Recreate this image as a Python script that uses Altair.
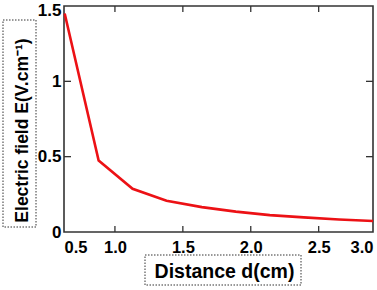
import altair as alt
import pandas as pd

# data
distance = [0.63, 0.88, 1.13, 1.38, 1.64, 1.89, 2.14, 2.39, 2.65, 2.90]
field = [1.45, 0.475, 0.287, 0.207, 0.165, 0.135, 0.112, 0.097, 0.083, 0.073]

x_tick_values = [0.625, 1.0, 1.5, 2.0, 2.5, 2.9]
x_tick_labels = ["0.5", "1.0", "1.5", "2.0", "2.5", "3.0"]
x_minor_ticks = [1.0, 1.5, 2.0, 2.5]
y_tick_values = [0, 0.5, 1, 1.5]
y_inner_ticks = [0.5, 1.0]

X_DOMAIN = [0.625, 2.9]
Y_DOMAIN = [0, 1.5]
W, H = 309, 226
FONT = "Liberation Sans"

df = pd.DataFrame({"d": distance, "E": field})
xt = pd.DataFrame({"t": x_minor_ticks})
yt = pd.DataFrame({"t": y_inner_ticks})

label_expr = "[{}][indexof([{}], datum.value)]".format(
    ",".join("'%s'" % s for s in x_tick_labels),
    ",".join(repr(v) for v in x_tick_values),
)

xscale = alt.Scale(domain=X_DOMAIN, nice=False, zero=False)
yscale = alt.Scale(domain=Y_DOMAIN, nice=False, zero=True)

line = alt.Chart(df).mark_line(color="#ec1115", strokeWidth=2.6).encode(
    x=alt.X(
        "d:Q",
        scale=xscale,
        axis=alt.Axis(
            title="Distance d(cm)",
            values=x_tick_values,
            labelExpr=label_expr,
            labelFlush=True,
            labelFont=FONT,
            labelFontWeight="bold",
            labelFontSize=16.5,
            labelColor="black",
            labelPadding=7,
            labelBaseline="top",
            ticks=False,
            tickSize=0,
            domain=False,
            grid=False,
            titleFont=FONT,
            titleFontWeight="bold",
            titleFontSize=19.5,
            titleColor="black",
            titleX=160,
            titleY=45,
            titleAlign="center",
            titleBaseline="alphabetic",
        ),
    ),
    y=alt.Y(
        "E:Q",
        scale=yscale,
        axis=alt.Axis(
            title="Electric field E(V.cm⁻¹)",
            values=y_tick_values,
            format="~g",
            labelFont=FONT,
            labelFontWeight="bold",
            labelFontSize=17,
            labelColor="black",
            labelPadding=3,
            labelOffset={
                "condition": {"test": "datum.value >= 1.5", "value": 4},
                "value": 0,
            },
            ticks=False,
            tickSize=0,
            domain=False,
            grid=False,
            titleFont=FONT,
            titleFontWeight="bold",
            titleFontSize=17.5,
            titleColor="black",
            titleAngle=270,
            titleX=-37,
            titleY=124,
            titleAlign="center",
            titleBaseline="alphabetic",
        ),
    ),
)

tick_style = dict(color="#333", strokeWidth=1.3)
bottom_ticks = alt.Chart(xt).mark_rule(**tick_style).encode(
    x=alt.X("t:Q", scale=xscale), y=alt.value(H - 6), y2=alt.value(H)
)
top_ticks = alt.Chart(xt).mark_rule(**tick_style).encode(
    x=alt.X("t:Q", scale=xscale), y=alt.value(0), y2=alt.value(6)
)
left_ticks = alt.Chart(yt).mark_rule(**tick_style).encode(
    y=alt.Y("t:Q", scale=yscale), x=alt.value(0), x2=alt.value(7)
)
right_ticks = alt.Chart(yt).mark_rule(**tick_style).encode(
    y=alt.Y("t:Q", scale=yscale), x=alt.value(W - 7), x2=alt.value(W)
)

box_style = dict(fill=None, fillOpacity=0, stroke="#333", strokeWidth=1, strokeDash=[1.5, 1.5])
one = alt.Data(values=[{"k": 1}])
ybox = alt.Chart(one).mark_rect(**box_style).encode(
    x=alt.value(-61), x2=alt.value(-28), y=alt.value(14), y2=alt.value(221)
)
xbox = alt.Chart(one).mark_rect(**box_style).encode(
    x=alt.value(81), x2=alt.value(237), y=alt.value(249), y2=alt.value(279)
)

chart = (
    alt.layer(line, bottom_ticks, top_ticks, left_ticks, right_ticks, ybox, xbox)
    .properties(
        width=W,
        height=H,
        autosize=alt.AutoSizeParams(type="none"),
        padding={"left": 64, "top": 6, "right": 4, "bottom": 58},
        background="white",
    )
    .configure_view(stroke="#333", strokeWidth=1.6)
)

chart.save("out.html", embed_options={"renderer": "svg", "actions": False})
